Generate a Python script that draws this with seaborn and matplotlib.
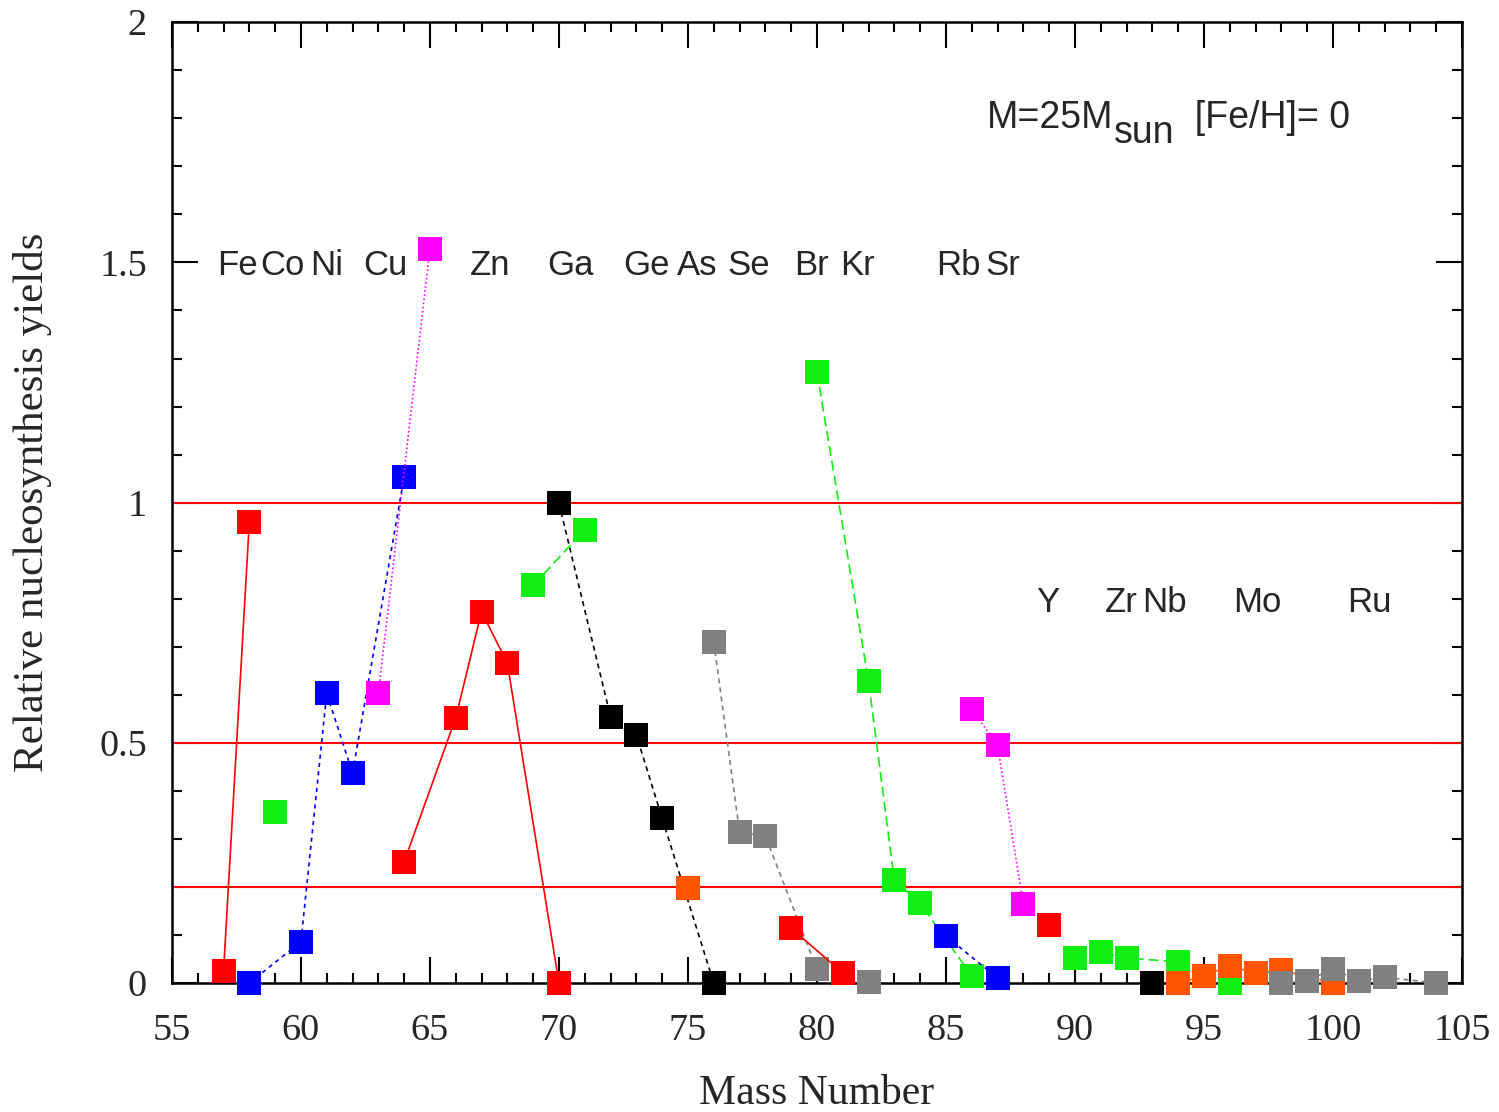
import matplotlib
matplotlib.use("Agg")
import matplotlib.pyplot as plt
import seaborn as sns
import pandas as pd

# ---------------- data ----------------
fe_x = [57, 58];                 fe_y = [0.024, 0.960]
co_x = [59];                     co_y = [0.357]
ni_x = [58, 60, 61, 62, 64];     ni_y = [0.0, 0.086, 0.603, 0.437, 1.054]
cu_x = [63, 65];                 cu_y = [0.603, 1.528]
zn_x = [64, 66, 67, 68, 70];     zn_y = [0.252, 0.552, 0.773, 0.666, 0.0]
ga_x = [69, 71];                 ga_y = [0.828, 0.943]
ge_x = [70, 72, 73, 74, 76];     ge_y = [0.999, 0.554, 0.516, 0.343, 0.0]
as_x = [75];                     as_y = [0.198]
se_x = [76, 77, 78, 80, 82];     se_y = [0.710, 0.314, 0.306, 0.029, 0.002]
br_x = [79, 81];                 br_y = [0.114, 0.021]
kr_x = [80, 82, 83, 84, 86];     kr_y = [1.272, 0.628, 0.214, 0.166, 0.015]
rb_x = [85, 87];                 rb_y = [0.098, 0.010]
sr_x = [86, 87, 88];             sr_y = [0.570, 0.495, 0.164]
y_x = [89];                      y_y = [0.121]
zr_x = [90, 91, 92, 94, 96];     zr_y = [0.052, 0.064, 0.052, 0.044, 0.0]
nb_x = [93];                     nb_y = [0.0]
mo_x = [94, 95, 96, 97, 98, 100]; mo_y = [0.0, 0.015, 0.036, 0.020, 0.027, 0.0]
ru_x = [98, 99, 100, 101, 102, 104]; ru_y = [0.0, 0.004, 0.030, 0.004, 0.012, 0.0]

ref_lines = [0.2, 0.5, 1.0]

row1_labels = ["Fe", "Co", "Ni", "Cu", "Zn", "Ga", "Ge", "As", "Se", "Br", "Kr", "Rb", "Sr"]
row1_pos = [57.54, 59.30, 61.01, 63.26, 67.33, 70.43, 73.41, 75.35, 77.36, 79.77, 81.59, 85.47, 87.21]
row2_labels = ["Y", "Zr", "Nb", "Mo", "Ru"]
row2_pos = [88.95, 91.78, 93.45, 97.05, 101.40]

x_ticks = [55, 60, 65, 70, 75, 80, 85, 90, 95, 100, 105]
y_ticks = [0, 0.5, 1, 1.5, 2]
y_ticklabels = ["0", "0.5", "1", "1.5", "2"]

RED, GREEN, BLUE, MAG, BLACK, GRAY, ORANGE = (
    "#ff0000", "#11ee11", "#0000ff", "#ff00ff", "#000000", "#808080", "#ff5500")

series = [
    (fe_x, fe_y, RED, "-"),
    (co_x, co_y, GREEN, "none"),
    (ni_x, ni_y, BLUE, (0, (2.5, 2.5))),
    (cu_x, cu_y, MAG, (0, (1, 1.5))),
    (zn_x, zn_y, RED, "-"),
    (ga_x, ga_y, GREEN, (0, (6, 3))),
    (ge_x, ge_y, BLACK, (0, (3, 2.5))),
    (as_x, as_y, ORANGE, "none"),
    (se_x, se_y, GRAY, (0, (3, 2.5))),
    (br_x, br_y, RED, "-"),
    (kr_x, kr_y, GREEN, (0, (6, 3))),
    (rb_x, rb_y, BLUE, (0, (2.5, 2.5))),
    (sr_x, sr_y, MAG, (0, (1, 1.5))),
    (y_x, y_y, RED, "none"),
    (zr_x, zr_y, GREEN, (0, (6, 3))),
    (nb_x, nb_y, BLACK, "none"),
    (mo_x, mo_y, ORANGE, (0, (3, 2.5))),
    (ru_x, ru_y, GRAY, (0, (3, 2.5))),
]

# ---------------- style ----------------
sns.set_style("ticks")
plt.rcParams["font.family"] = ["Liberation Serif", "DejaVu Serif"]

fig = plt.figure(figsize=(14.99, 11.12), dpi=100)
ax = fig.add_axes([0.1147, 0.116, 0.8606, 0.864])

for v in ref_lines:
    ax.axhline(v, color=RED, lw=1.5, zorder=1)

for i, (xs, ys, col, ls) in enumerate(series):
    df = pd.DataFrame({"x": xs, "y": ys})
    sns.lineplot(data=df, x="x", y="y", ax=ax, color=col, linestyle=ls,
                 linewidth=1.2, marker="s", markersize=17,
                 markeredgewidth=0, markeredgecolor=col,
                 sort=False, estimator=None, clip_on=False,
                 zorder=3 + i * 0.01)

ax.set_xlim(55, 105)
ax.set_ylim(0, 2)
ax.set_xticks(x_ticks)
ax.set_xticks(range(55, 106), minor=True)
ax.set_yticks(y_ticks)
ax.set_yticklabels(y_ticklabels)
ax.set_yticks([v / 10 for v in range(0, 21)], minor=True)

ax.tick_params(which="both", direction="in", top=True, right=True,
               width=1.5, color="black")
ax.tick_params(which="major", length=19, labelsize=27.5)
ax.tick_params(which="minor", length=7)
ax.tick_params(axis="x", which="major", pad=22)
ax.tick_params(axis="y", which="major", pad=18)
for sp in ax.spines.values():
    sp.set_visible(True)
    sp.set_linewidth(1.8)
    sp.set_color("black")

ax.set_xlabel("Mass Number", fontsize=30)
ax.set_ylabel("Relative nucleosynthesis yields", fontsize=31)
ax.xaxis.set_label_coords(0.5, -0.095)
ax.yaxis.set_label_coords(-0.093, 0.5)

sans = ["Liberation Sans", "DejaVu Sans"]
for lab, xp in zip(row1_labels, row1_pos):
    ax.text(xp, 1.4735, lab, ha="center", va="baseline", fontsize=25,
            family=sans)
for lab, xp in zip(row2_labels, row2_pos):
    ax.text(xp, 0.772, lab, ha="center", va="baseline", fontsize=25,
            family=sans)

t1 = ax.text(86.59, 1.779, "M=25M", ha="left", va="baseline", fontsize=27,
             family=sans)
t2 = ax.annotate("sun", xy=(1, 1.748), xycoords=(t1, "data"), ha="left",
                 va="baseline", fontsize=27, family=sans)
t3 = ax.annotate("  [Fe/H]= 0", xy=(1, 1.779), xycoords=(t2, "data"),
                 ha="left", va="baseline", fontsize=27, family=sans)

fig.savefig("out.png", dpi=100)
